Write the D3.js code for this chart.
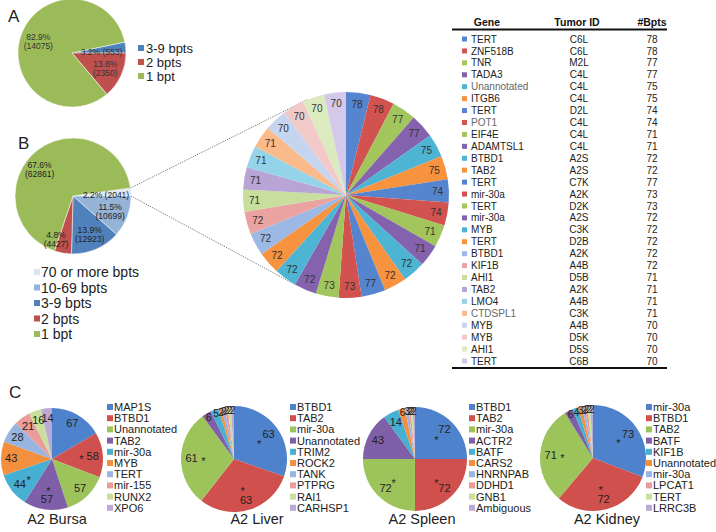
<!DOCTYPE html>
<html><head><meta charset="utf-8">
<script src="https://cdn.jsdelivr.net/npm/d3@7"></script>
<style>body{margin:0;background:#fff}svg{display:block;font-family:"Liberation Sans",Arial,Helvetica,sans-serif}</style>
</head><body><svg id="c" width="716" height="532"></svg>
<script>
// ---------- DATA ----------
// Panel A
const aCategories = ["3-9 bpts", "2 bpts", "1 bpt"];
const aValues = [553, 2350, 14075];
const aPercents = ["3.2%", "13.8%", "82.9%"];
// Panel B
const bCategories = ["70 or more bpts", "10-69 bpts", "3-9 bpts", "2 bpts", "1 bpt"];
const bValues = [2041, 10699, 12923, 4427, 62861];
const bPercents = ["2.2%", "11.5%", "13.9%", "4.8%", "67.6%"];
// Table / exploded pie
const tGenes = ["TERT","ZNF518B","TNR","TADA3","Unannotated","ITGB6","TERT","POT1","EIF4E","ADAMTSL1","BTBD1","TAB2","TERT","mir-30a","TERT","mir-30a","MYB","TERT","BTBD1","KIF1B","AHI1","TAB2","LMO4","CTDSPL1","MYB","MYB","AHI1","TERT"];
const tTumorIds = ["C6L","C6L","M2L","C4L","C4L","C4L","D2L","C4L","C4L","C4L","A2S","A2S","C7K","A2K","D2K","A2S","C3K","D2B","A2K","A4B","D5B","A2K","A4B","C3K","A4B","D5K","D5S","C6B"];
const tBpts = [78,78,77,77,75,75,74,74,71,71,72,72,77,73,73,72,72,72,72,72,71,71,71,71,70,70,70,70];
const tHeaders = ["Gene", "Tumor ID", "#Bpts"];
// Panel C
const bursaGenes = ["MAP1S","BTBD1","Unannotated","TAB2","mir-30a","MYB","TERT","mir-155","RUNX2","XPO6"];
const bursaValues = [67,58,57,57,44,43,28,21,16,14];
const bursaStars = [0,1,0,1,1,0,0,0,0,0];
const liverGenes = ["BTBD1","TAB2","mir-30a","Unannotated","TRIM2","ROCK2","TANK","PTPRG","RAI1","CARHSP1"];
const liverValues = [63,63,61,6,5,2,2,2,2,2];
const liverStars = [1,1,1,0,0,0,0,0,0,0];
const spleenGenes = ["BTBD1","TAB2","mir-30a","ACTR2","BATF","CARS2","HNRNPAB","DDHD1","GNB1","Ambiguous"];
const spleenValues = [72,72,72,43,14,6,3,2,2,2];
const spleenStars = [1,1,1,0,0,0,0,0,0,0];
const kidneyGenes = ["mir-30a","BTBD1","TAB2","BATF","KIF1B","Unannotated","mir-30a","LPCAT1","TERT","LRRC3B"];
const kidneyValues = [73,72,71,6,4,3,2,2,2,2];
const kidneyStars = [1,1,1,0,0,0,0,0,0,0];
const cTitles = ["A2 Bursa","A2 Liver","A2 Spleen","A2 Kidney"];

// ---------- STYLE ----------
const abColors = {"70 or more bpts":"#DCE6F2","10-69 bpts":"#95B3D7","3-9 bpts":"#4F81BD","2 bpts":"#C0504D","1 bpt":"#9BBB59"};
const base = ["#5585CF","#D2524F","#A3C65C","#8462AE","#4DB4D4","#F7923E"];
const light = ["#9CB8E4","#EBA3A1","#C8DE9C","#B8A5D6","#94D3E8","#FBBA8A"];
const lighter = ["#C6D5EF","#F1C9C8","#DCEBBF","#D4C9E8"];
const cColors = ["#4E82CC","#D0504E","#9DC45A","#7F5FA8","#47B0D2","#F48F3E","#97B5E0","#EA9C9A","#C8DF9E","#BBA9D8"];
const txt = "#222";

const svg = d3.select("#c");
const TAU = 2 * Math.PI;
function pt(cx, cy, r, a) { return [cx + r * Math.sin(a), cy - r * Math.cos(a)]; }

function pieData(values, start) {
  return d3.pie().sort(null).value(d => d).startAngle(start).endAngle(start + TAU)(values);
}

// ---------- PANEL A ----------
(function () {
  const cx = 72, cy = 53, r = 54;
  const total = d3.sum(aValues);
  const start = Math.PI / 2 - TAU * aValues[0] / total;
  const arcs = pieData(aValues, start);
  const arc = d3.arc().innerRadius(0).outerRadius(r);
  const g = svg.append("g").attr("transform", `translate(${cx},${cy})`);
  g.selectAll("path").data(arcs).join("path").attr("d", arc)
    .attr("fill", (d, i) => abColors[aCategories[i]]).attr("stroke", "#fff").attr("stroke-width", 0.5);
  const lr = [0.55, 0.68, 0.66];
  arcs.forEach((d, i) => {
    const m = (d.startAngle + d.endAngle) / 2;
    const [x, y] = pt(0, 0, r * lr[i], m);
    const t = g.append("text").attr("x", x).attr("y", y).attr("text-anchor", "middle")
      .attr("font-size", 8.5).attr("fill", "#333");
    if (i === 0) {
      t.attr("dy", "0.6em").text(`${aPercents[i]} (${aValues[i]})`);
    } else {
      t.append("tspan").attr("x", x).attr("dy", "-0.15em").text(aPercents[i]);
      t.append("tspan").attr("x", x).attr("dy", "1.05em").text(`(${aValues[i]})`);
    }
  });
  svg.append("text").attr("x", 8).attr("y", 22).attr("font-size", 17).attr("fill", txt).text("A");
  const lg = svg.append("g");
  aCategories.forEach((c, i) => {
    const y = 48 + i * 14;
    lg.append("rect").attr("x", 138).attr("y", y - 3).attr("width", 6).attr("height", 6).attr("fill", abColors[c]);
    lg.append("text").attr("x", 146).attr("y", y).attr("dy", "0.36em").attr("font-size", 13).attr("fill", txt).text(c);
  });
})();

// ---------- PANEL B + exploded pie ----------
const bigCx = 346, bigCy = 195, bigR = 103;
(function () {
  const cx = 73, cy = 196, r = 58;
  const total = d3.sum(bValues);
  const start = Math.PI / 2 - TAU * bValues[0] / total;
  const arcs = pieData(bValues, start);
  const arc = d3.arc().innerRadius(0).outerRadius(r);
  const g = svg.append("g").attr("transform", `translate(${cx},${cy})`);
  g.selectAll("path").data(arcs).join("path").attr("d", arc)
    .attr("fill", (d, i) => abColors[bCategories[i]]).attr("stroke", "#fff").attr("stroke-width", 0.5);
  const lr = [0.57, 0.69, 0.72, 0.8, 0.74];
  const ao = [0.03, 0.02, 0, 0.2, -0.2];
  arcs.forEach((d, i) => {
    const m = (d.startAngle + d.endAngle) / 2 + ao[i];
    const [x, y] = pt(0, 0, r * lr[i], m);
    const t = g.append("text").attr("x", x).attr("y", y).attr("text-anchor", "middle")
      .attr("font-size", 8.5).attr("fill", "#222");
    if (i === 0) {
      t.attr("dy", "0.4em").text(`${bPercents[i]} (${bValues[i]})`);
    } else {
      t.append("tspan").attr("x", x).attr("dy", "-0.15em").text(bPercents[i]);
      t.append("tspan").attr("x", x).attr("dy", "1.05em").text(`(${bValues[i]})`);
    }
  });
  svg.append("text").attr("x", 18).attr("y", 149).attr("font-size", 17).attr("fill", txt).text("B");
  const lg = svg.append("g");
  bCategories.forEach((c, i) => {
    const y = 272 + i * 15.5;
    lg.append("rect").attr("x", 34).attr("y", y - 3).attr("width", 6).attr("height", 6).attr("fill", abColors[c]);
    lg.append("text").attr("x", 41).attr("y", y).attr("dy", "0.36em").attr("font-size", 14).attr("fill", txt).text(c);
  });
  // connector lines from the "70 or more" slice to the exploded pie
  const s = arcs[0];
  const p1 = pt(cx, cy, r, s.startAngle), p2 = pt(cx, cy, r, s.endAngle);
  const q1 = pt(bigCx, bigCy, bigR, -22 * Math.PI / 180), q2 = pt(bigCx, bigCy, bigR, 210 * Math.PI / 180);
  [[p1, q1], [p2, q2]].forEach(([a, b]) => {
    svg.append("line").attr("x1", a[0]).attr("y1", a[1]).attr("x2", b[0]).attr("y2", b[1])
      .attr("stroke", "#555").attr("stroke-width", 0.8).attr("stroke-dasharray", "1.2,1.2");
  });
})();

function bigColor(i) { return i < 18 ? base[i % 6] : (i < 24 ? light[i - 18] : lighter[i - 24]); }

(function () {
  const arcs = pieData(tBpts, 0);
  const arc = d3.arc().innerRadius(0).outerRadius(bigR);
  const g = svg.append("g").attr("transform", `translate(${bigCx},${bigCy})`);
  g.selectAll("path").data(arcs).join("path").attr("d", arc).attr("fill", (d, i) => bigColor(i));
  g.selectAll("text").data(arcs).join("text")
    .attr("x", d => pt(0, 0, bigR * 0.89, (d.startAngle + d.endAngle) / 2)[0])
    .attr("y", d => pt(0, 0, bigR * 0.89, (d.startAngle + d.endAngle) / 2)[1])
    .attr("dy", "0.35em").attr("text-anchor", "middle").attr("font-size", 10).attr("fill", "#333")
    .text(d => d.data);
})();

// ---------- TABLE ----------
(function () {
  const x0 = 452, x1 = 667;
  const colX = [487, 577, 652];
  const g = svg.append("g");
  tHeaders.forEach((h, i) => g.append("text").attr("x", colX[i]).attr("y", 26).attr("text-anchor", "middle")
    .attr("font-size", 10.5).attr("font-weight", "bold").attr("fill", "#111").text(h));
  g.append("line").attr("x1", x0).attr("x2", x1).attr("y1", 29.5).attr("y2", 29.5).attr("stroke", "#111").attr("stroke-width", 1.8);
  const y = d3.scaleLinear().domain([0, tGenes.length - 1]).range([39, 361]);
  const grayGenes = new Set(["Unannotated", "POT1", "CTDSPL1"]);
  tGenes.forEach((gname, i) => {
    const yy = y(i);
    g.append("rect").attr("x", 462).attr("y", yy - 2.5).attr("width", 5).attr("height", 5).attr("fill", bigColor(i));
    g.append("text").attr("x", 471).attr("y", yy).attr("dy", "0.36em").attr("font-size", 10)
      .attr("fill", grayGenes.has(gname) ? "#666" : "#222").text(gname);
    g.append("text").attr("x", 579).attr("y", yy).attr("dy", "0.36em").attr("text-anchor", "middle")
      .attr("font-size", 10).attr("fill", "#222").text(tTumorIds[i]);
    g.append("text").attr("x", 652).attr("y", yy).attr("dy", "0.36em").attr("text-anchor", "middle")
      .attr("font-size", 10).attr("fill", "#222").text(tBpts[i]);
  });
  g.append("line").attr("x1", x0).attr("x2", x1).attr("y1", 368).attr("y2", 368).attr("stroke", "#111").attr("stroke-width", 1.8);
})();

// ---------- PANEL C ----------
svg.append("text").attr("x", 9).attr("y", 398).attr("font-size", 17).attr("fill", txt).text("C");
const cPanels = [
  {genes: bursaGenes, values: bursaValues, stars: bursaStars, cx: 52, cy: 459, r: 51, lx: 107, tx: 57},
  {genes: liverGenes, values: liverValues, stars: liverStars, cx: 234, cy: 459, r: 53, lx: 290, tx: 257},
  {genes: spleenGenes, values: spleenValues, stars: spleenStars, cx: 415, cy: 459, r: 52, lx: 469, tx: 422},
  {genes: kidneyGenes, values: kidneyValues, stars: kidneyStars, cx: 593, cy: 458, r: 53, lx: 646, tx: 607}
];
cPanels.forEach((p, k) => {
  const arcs = pieData(p.values, 0);
  const arc = d3.arc().innerRadius(0).outerRadius(p.r);
  const g = svg.append("g").attr("transform", `translate(${p.cx},${p.cy})`);
  g.selectAll("path").data(arcs).join("path").attr("d", arc).attr("fill", (d, i) => cColors[i]);
  arcs.forEach((d, i) => {
    const m = (d.startAngle + d.endAngle) / 2;
    const small = d.data < 10;
    const [x, y] = pt(0, 0, p.r * (small ? 0.92 : 0.8), m);
    g.append("text").attr("x", x).attr("y", y).attr("dy", "0.35em").attr("text-anchor", "middle")
      .attr("font-size", small ? 10 : 11).attr("fill", "#222").text(d.data);
    if (p.stars[i]) {
      const [sx, sy] = pt(0, 0, p.r * 0.58, m);
      g.append("text").attr("x", sx).attr("y", sy).attr("dy", "0.6em").attr("text-anchor", "middle")
        .attr("font-size", 11).attr("fill", "#222").text("*");
    }
  });
  const lg = svg.append("g");
  p.genes.forEach((gn, i) => {
    const y = 407 + i * 11.2;
    lg.append("rect").attr("x", p.lx).attr("y", y - 3).attr("width", 6).attr("height", 6).attr("fill", cColors[i]);
    lg.append("text").attr("x", p.lx + 7).attr("y", y).attr("dy", "0.36em").attr("font-size", 11).attr("fill", txt).text(gn);
  });
  svg.append("text").attr("x", p.tx).attr("y", 524).attr("text-anchor", "middle").attr("font-size", 14.5)
    .attr("fill", txt).text(cTitles[k]);
});
</script></body></html>
